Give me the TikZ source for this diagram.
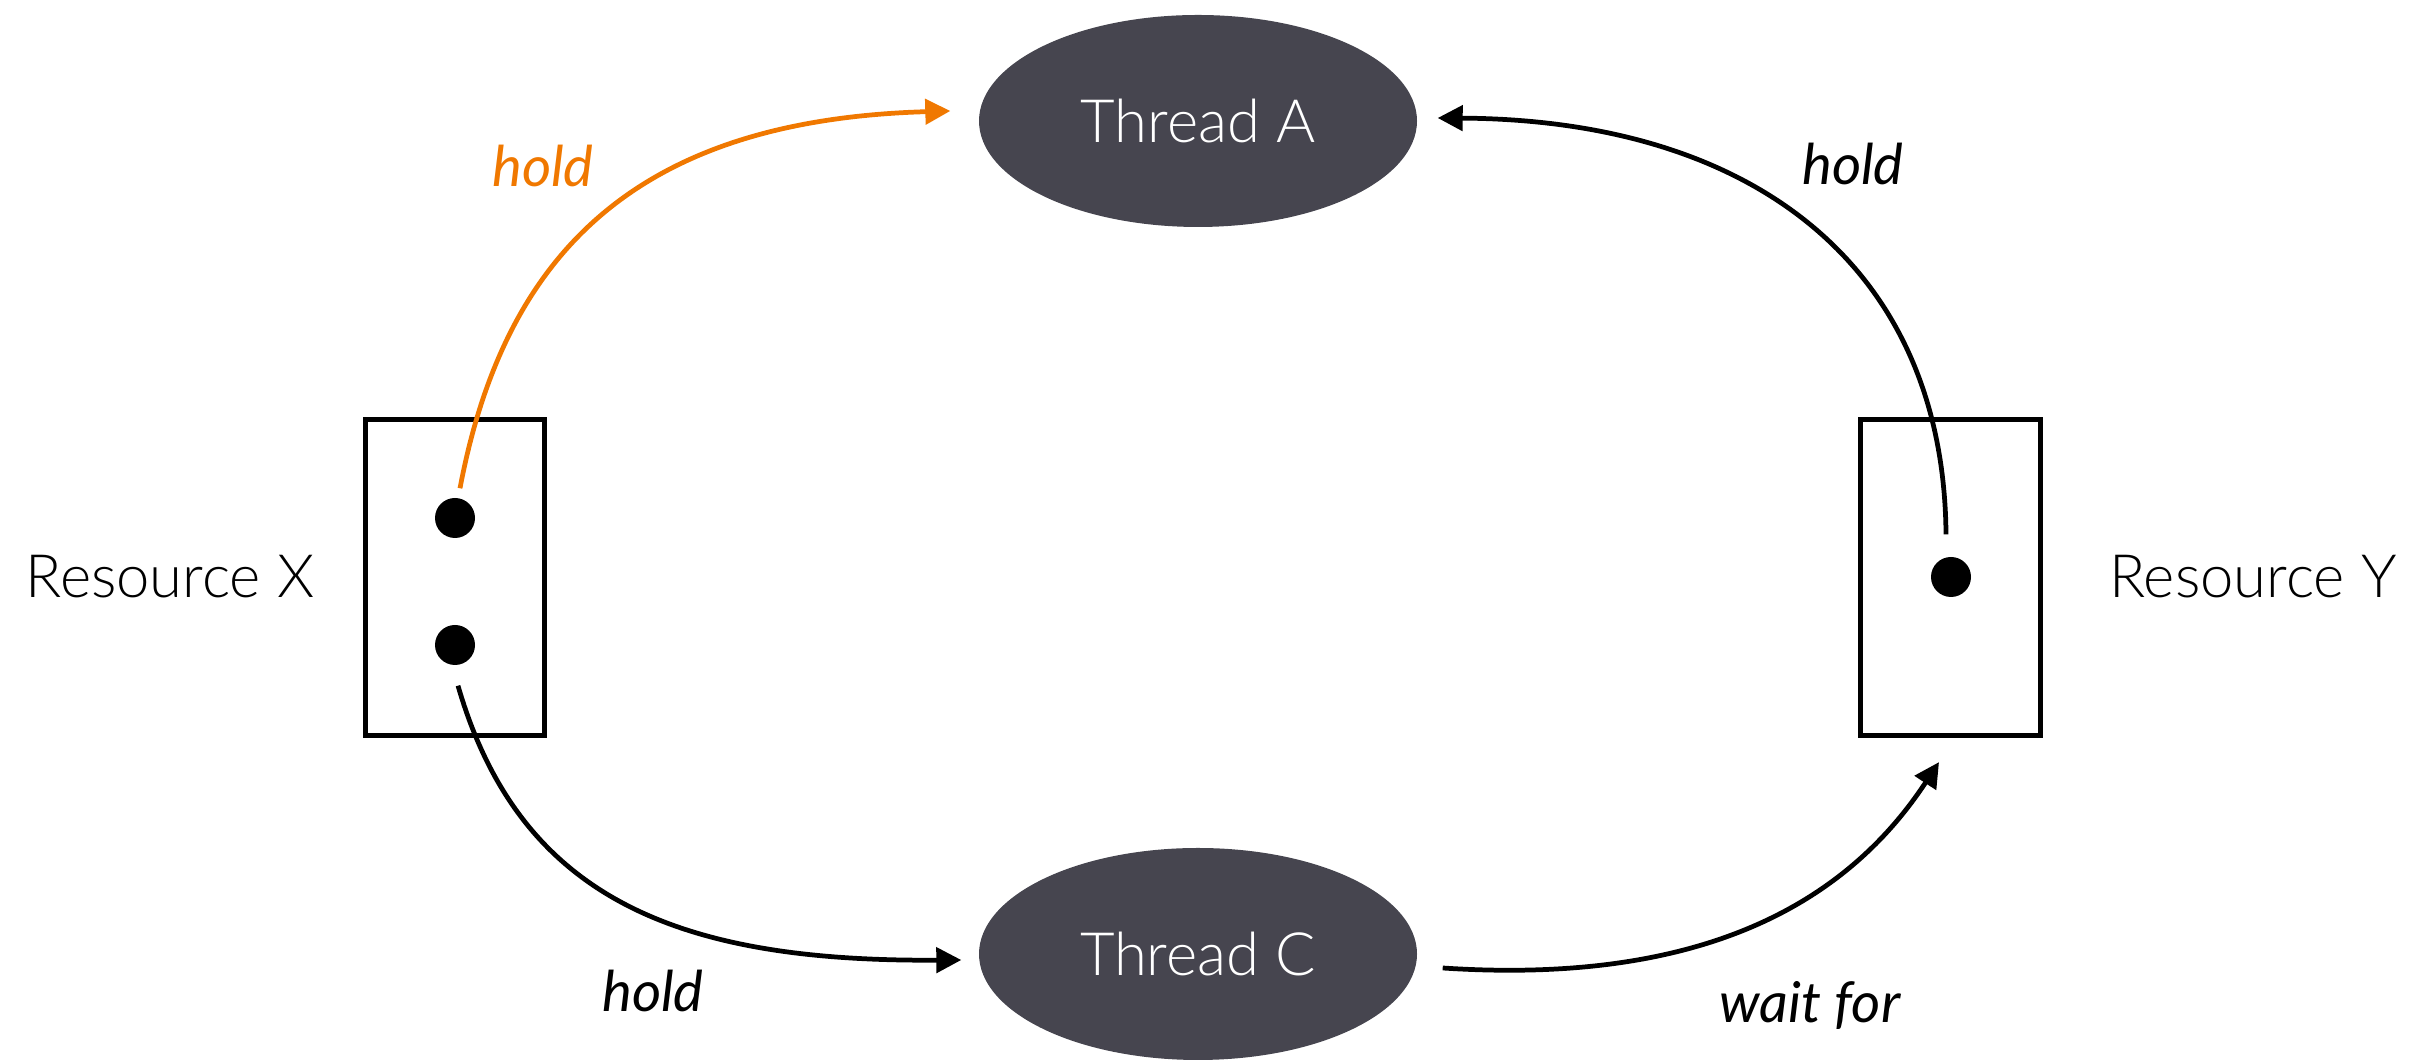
\documentclass[tikz,border=0pt]{standalone}
\usepackage{fontspec}
\setmainfont{Lato}
\newfontfamily\thinfont{Lato Light}
\usetikzlibrary{arrows.meta,shapes.geometric}
\definecolor{threadgray}{HTML}{46454F}
\definecolor{holdorange}{HTML}{F07800}
\begin{document}
\begin{tikzpicture}[
 thread/.style={ellipse,fill=threadgray,text=white,minimum width=4.38cm,minimum height=2.12cm,inner sep=0pt,font=\thinfont\fontsize{17}{20}\selectfont},
 res/.style={draw,line width=1.35pt,minimum width=1.795cm,minimum height=3.165cm,inner sep=0pt},
 tok/.style={circle,fill=black,minimum size=0.4cm,inner sep=0pt},
 reslabel/.style={font=\thinfont\fontsize{17}{20}\selectfont},
 edge/.style={line width=1.35pt,-{Triangle[length=2.5mm,width=2.5mm]}},
 lbl/.style={anchor=base,font=\itshape\fontsize{16}{19}\selectfont}]
 \useasboundingbox (0,0) rectangle (24.3,10.6);
 % threads
 \node[thread] (tA) at (11.98,9.39) {Thread A};
 \node[thread] (tC) at (11.98,1.06) {Thread C};
 % resources
 \node[res] (rX) at (4.55,4.825) {};
 \node[res] (rY) at (19.505,4.825) {};
 \node[tok] (x1) at (4.55,5.42) {};
 \node[tok] (x2) at (4.55,4.15) {};
 \node[tok] (y1) at (19.51,4.83) {};
 \node[reslabel] (lX) at (1.70,4.83) {Resource X};
 \node[reslabel] (lY) at (22.53,4.83) {Resource Y};
 % connector ends
 \coordinate (xh) at ([shift={(0.5mm,0.9mm)}]x1.north);
 \coordinate (xb) at ([shift={(0.3mm,-2mm)}]x2.south);
 \coordinate (yh) at ([shift={(-0.5mm,2.2mm)}]y1.north);
 \coordinate (yb) at ([shift={(-1.15mm,-2.4mm)}]rY.south);
 \coordinate (aL) at ([shift={(-2.8mm,1mm)}]tA.west);
 \coordinate (aR) at ([shift={(2mm,0.3mm)}]tA.east);
 \coordinate (cL) at ([shift={(-1.7mm,-0.6mm)}]tC.west);
 \coordinate (cR) at ([shift={(2.5mm,-1.4mm)}]tC.east);
 % connectors
 \draw[edge,holdorange] (xh) .. controls (5.05,8.10) and (6.40,9.40) .. (aL);
 \draw[edge] (yh) .. controls (19.44,7.88) and (17.60,9.40) .. (aR);
 \draw[edge] (xb) .. controls (5.20,1.60) and (6.80,0.98) .. (cL);
 \draw[edge] (cR) .. controls (17.00,0.75) and (18.45,1.55) .. (yb);
 % labels
 \node[lbl,text=holdorange] (h1) at (5.43,8.73) {hold};
 \node[lbl] (h2) at (18.53,8.75) {hold};
 \node[lbl] (h3) at (6.53,0.48) {hold};
 \node[lbl] (w1) at (18.10,0.37) {wait for};
\end{tikzpicture}
\end{document}
